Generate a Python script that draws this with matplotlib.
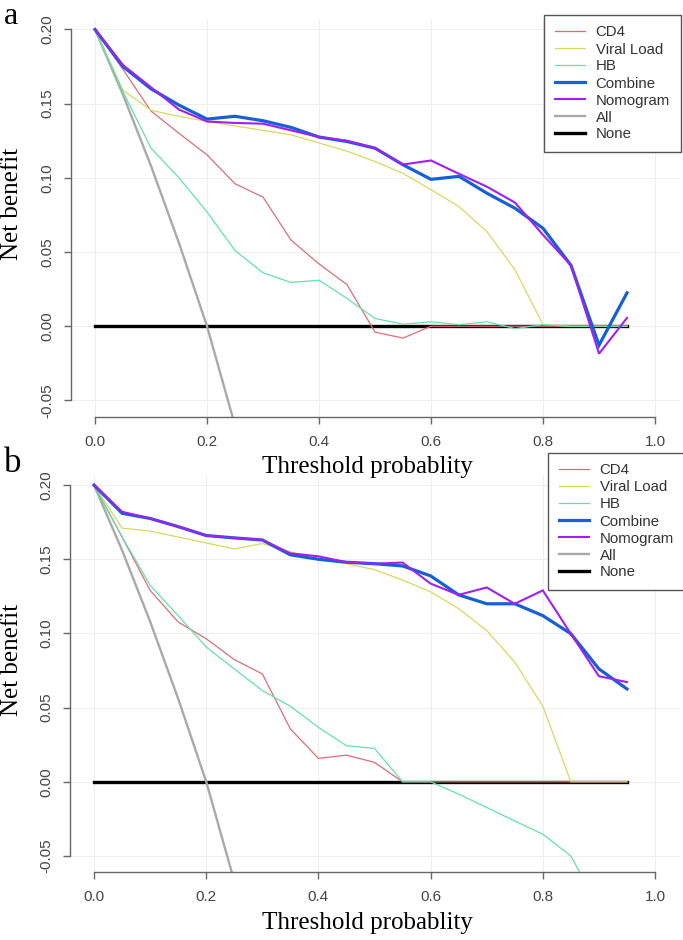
import matplotlib
matplotlib.use("Agg")
import matplotlib.pyplot as plt

# Datos (umbral cada 0.05)
thresholds = [0.00, 0.05, 0.10, 0.15, 0.20, 0.25, 0.30, 0.35, 0.40, 0.45,
              0.50, 0.55, 0.60, 0.65, 0.70, 0.75, 0.80, 0.85, 0.90, 0.95]

# Panel a
cd4_a = [0.200, 0.173, 0.145, 0.130, 0.1155, 0.096, 0.087, 0.058, 0.042, 0.028,
         -0.004, -0.008, 0.000, 0.000, 0.000, 0.000, 0.000, 0.000, 0.000, 0.000]
vl_a = [0.200, 0.159, 0.1455, 0.1415, 0.138, 0.135, 0.132, 0.129, 0.1235, 0.118,
        0.111, 0.103, 0.092, 0.0806, 0.0637, 0.038, 0.001, 0.000, 0.000, 0.000]
hb_a = [0.200, 0.158, 0.120, 0.100, 0.077, 0.051, 0.036, 0.0295, 0.031, 0.0187,
        0.0052, 0.0014, 0.003, 0.001, 0.003, -0.0016, 0.001, 0.000, 0.000, 0.000]
combine_a = [0.200, 0.175, 0.160, 0.149, 0.1396, 0.1415, 0.1385, 0.134, 0.1275, 0.1245,
             0.120, 0.1088, 0.099, 0.101, 0.0896, 0.0795, 0.066, 0.041, -0.0128, 0.0225]
nomogram_a = [0.200, 0.176, 0.161, 0.146, 0.138, 0.137, 0.1365, 0.132, 0.1275, 0.125,
              0.120, 0.109, 0.1117, 0.1027, 0.094, 0.0833, 0.0615, 0.041, -0.0185, 0.0056]

# Panel b
cd4_b = [0.200, 0.165, 0.129, 0.1077, 0.0964, 0.0824, 0.0727, 0.0356, 0.0158, 0.018,
         0.0131, 0.000, 0.000, 0.000, 0.000, 0.000, 0.000, 0.000, 0.000, 0.000]
vl_b = [0.200, 0.171, 0.169, 0.165, 0.161, 0.157, 0.1606, 0.155, 0.150, 0.147,
        0.143, 0.136, 0.128, 0.1167, 0.102, 0.0807, 0.051, 0.000, 0.000, 0.000]
hb_b = [0.200, 0.165, 0.1324, 0.112, 0.0908, 0.0761, 0.0615, 0.0509, 0.0367, 0.0243,
        0.0225, 0.000, 0.000, -0.0083, -0.0173, -0.0264, -0.0353, -0.050, -0.085, -0.120]
combine_b = [0.200, 0.181, 0.1775, 0.172, 0.166, 0.1644, 0.163, 0.153, 0.150, 0.148,
             0.147, 0.1455, 0.1388, 0.126, 0.120, 0.120, 0.112, 0.0998, 0.0761, 0.0626]
nomogram_b = [0.200, 0.182, 0.1775, 0.172, 0.166, 0.1644, 0.163, 0.154, 0.152, 0.148,
              0.147, 0.1478, 0.1336, 0.126, 0.131, 0.120, 0.129, 0.0998, 0.0712, 0.0672]

# Tratar a todos / a ninguno
all_x = [0.00, 0.05, 0.10, 0.15, 0.20, 0.25]
all_y = [0.200, 0.156, 0.108, 0.056, 0.000, -0.067]
none_x = [0.00, 0.95]
none_y = [0.0, 0.0]

x_ticks = [0.0, 0.2, 0.4, 0.6, 0.8, 1.0]
y_ticks = [-0.05, 0.00, 0.05, 0.10, 0.15, 0.20]
names = ["CD4", "Viral Load", "HB", "Combine", "Nomogram", "All", "None"]

colores = {"CD4": "#dc6d76", "Viral Load": "#d2dc5c", "HB": "#62e2ab",
           "Combine": "#1560d4", "Nomogram": "#a21ff0", "All": "#a9a9a9",
           "None": "black"}
grosor = {"CD4": 0.9, "Viral Load": 0.9, "HB": 0.9, "Combine": 2.3,
          "Nomogram": 1.5, "All": 1.7, "None": 2.4}

SERIF = "Liberation Serif"
SANS = "Liberation Sans"

W, H = 683, 940


def panel(ax, series):
    lines = []
    for name in ["None", "All", "CD4", "Viral Load", "HB", "Combine", "Nomogram"]:
        xs, ys = series[name]
        ln, = ax.plot(xs, ys, color=colores[name], lw=grosor[name], label=name,
                      solid_joinstyle="miter")
        lines.append(ln)
    # cuadricula muy tenue
    for xt in x_ticks:
        ax.axvline(xt, color="#eeeeee", lw=0.7, zorder=0)
    for yt in y_ticks:
        ax.axhline(yt, color="#eeeeee", lw=0.7, zorder=0)
    ax.set_xlim(-0.0429, 1.0446)
    ax.set_ylim(-0.0610, 0.2066)
    ax.spines["top"].set_visible(False)
    ax.spines["right"].set_visible(False)
    for s in ["left", "bottom"]:
        ax.spines[s].set_color("#666666")
        ax.spines[s].set_linewidth(1.0)
    ax.spines["bottom"].set_bounds(0.0, 1.0)
    ax.spines["left"].set_bounds(-0.05, 0.20)
    ax.set_xticks(x_ticks)
    ax.set_xticklabels(["%.1f" % v for v in x_ticks], fontfamily=SANS, fontsize=11,
                       color="#444444")
    ax.set_yticks(y_ticks)
    ax.set_yticklabels(["%.2f" % v for v in y_ticks], fontfamily=SANS, fontsize=11,
                       color="#444444", rotation=90, va="center")
    ax.tick_params(axis="both", length=5, width=1.0, color="#666666")
    ax.tick_params(axis="x", pad=8)
    ax.tick_params(axis="y", pad=7)
    handles = {ln.get_label(): ln for ln in lines}
    return [handles[n] for n in names]


fig = plt.figure(figsize=(6.83, 9.40), dpi=100)

ax_a = fig.add_axes([71 / W, 1 - 416.7 / H, 609 / W, 397 / H])
ax_b = fig.add_axes([70 / W, 1 - 872.3 / H, 610 / W, 397 / H])

datos_a = {"CD4": (thresholds, cd4_a), "Viral Load": (thresholds, vl_a),
           "HB": (thresholds, hb_a), "Combine": (thresholds, combine_a),
           "Nomogram": (thresholds, nomogram_a), "All": (all_x, all_y),
           "None": (none_x, none_y)}
datos_b = {"CD4": (thresholds, cd4_b), "Viral Load": (thresholds, vl_b),
           "HB": (thresholds, hb_b), "Combine": (thresholds, combine_b),
           "Nomogram": (thresholds, nomogram_b), "All": (all_x, all_y),
           "None": (none_x, none_y)}

for ax, datos, caja_x, caja_y, lab_y, letra, letra_y in [
        (ax_a, datos_a, 544, 15, 203.5, "a", 24),
        (ax_b, datos_b, 548, 453, 660, "b", 471.7)]:
    hs = panel(ax, datos)
    leg = fig.legend(hs, names, loc="upper left",
                     bbox_to_anchor=(caja_x / W, 1 - caja_y / H),
                     prop={"family": SANS, "size": 10.8}, frameon=True,
                     fancybox=False, edgecolor="#555555", framealpha=1,
                     handlelength=2.0, handletextpad=0.75, labelspacing=0.2,
                     borderpad=0.7, borderaxespad=0)
    leg.get_frame().set_linewidth(1.0)
    for t in leg.get_texts():
        t.set_color("#333333")
    fig.text(12 / W, 1 - lab_y / H, "Net benefit", rotation=90, ha="center",
             va="center", fontfamily=SERIF, fontsize=18)
    fig.text(4 / W, 1 - letra_y / H, letra, ha="left", va="baseline",
             fontfamily=SERIF, fontsize=23 if letra == "a" else 25)

fig.text(367 / W, 1 - 456.5 / H, "Threshold probablity", ha="center", va="top",
         fontfamily=SERIF, fontsize=18)
fig.text(367 / W, 1 - 911.7 / H, "Threshold probablity", ha="center", va="top",
         fontfamily=SERIF, fontsize=18)

fig.savefig("out.png", dpi=100)
